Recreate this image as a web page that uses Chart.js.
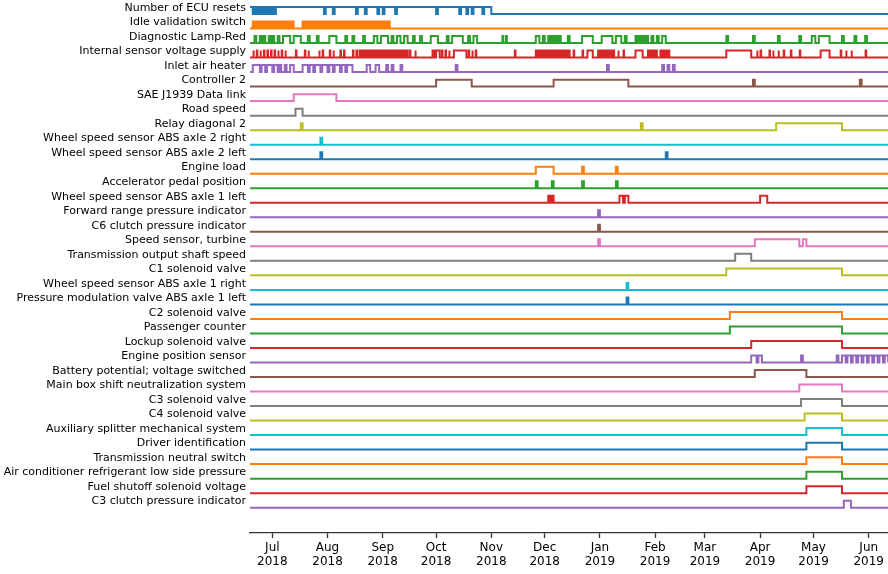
<!DOCTYPE html>
<html><head><meta charset="utf-8">
<script src="https://cdn.jsdelivr.net/npm/chart.js@4.4.1/dist/chart.umd.min.js"></script>
<style>html,body{margin:0;padding:0;background:#fff}canvas{display:block}</style>
</head><body>
<canvas id="c" width="888" height="574"></canvas>
<script>
// Visible time span of the x axis
const axisStart = Date.UTC(2018, 5, 18, 11);
const axisEnd = Date.UTC(2019, 5, 11, 20);

const monthTicks = ['2018-07-01','2018-08-01','2018-09-01','2018-10-01','2018-11-01','2018-12-01',
  '2019-01-01','2019-02-01','2019-03-01','2019-04-01','2019-05-01','2019-06-01'];
const monthLabels = [['Jul','2018'],['Aug','2018'],['Sep','2018'],['Oct','2018'],['Nov','2018'],['Dec','2018'],
  ['Jan','2019'],['Feb','2019'],['Mar','2019'],['Apr','2019'],['May','2019'],['Jun','2019']];

const rowLabels = [
  'Number of ECU resets','Idle validation switch','Diagnostic Lamp-Red','Internal sensor voltage supply',
  'Inlet air heater','Controller 2','SAE J1939 Data link','Road speed','Relay diagonal 2',
  'Wheel speed sensor ABS axle 2 right','Wheel speed sensor ABS axle 2 left','Engine load',
  'Accelerator pedal position','Wheel speed sensor ABS axle 1 left','Forward range pressure indicator',
  'C6 clutch pressure indicator','Speed sensor, turbine','Transmission output shaft speed','C1 solenoid valve',
  'Wheel speed sensor ABS axle 1 right','Pressure modulation valve ABS axle 1 left','C2 solenoid valve',
  'Passenger counter','Lockup solenoid valve','Engine position sensor','Battery potential; voltage switched',
  'Main box shift neutralization system','C3 solenoid valve','C4 solenoid valve',
  'Auxiliary splitter mechanical system','Driver identification','Transmission neutral switch',
  'Air conditioner refrigerant low side pressure','Fuel shutoff solenoid voltage','C3 clutch pressure indicator'];

// Each array: times where the signal switches state (on, off, on, off, ...), 'YYYY-MM-DD' or 'YYYY-MM-DD HH'
const ecuResets = ['2018-06-18','2018-06-20','2018-06-21','2018-06-22','2018-06-23','2018-06-24','2018-06-25','2018-06-26',
  '2018-06-27','2018-06-28','2018-06-29','2018-06-30','2018-07-01','2018-07-02','2018-07-03','2018-07-30',
  '2018-07-31','2018-08-04','2018-08-05','2018-08-17','2018-08-18','2018-08-22','2018-08-23','2018-08-29',
  '2018-08-30','2018-09-01','2018-09-02','2018-09-08','2018-09-09','2018-10-01','2018-10-02','2018-10-14',
  '2018-10-15','2018-10-18','2018-10-19','2018-10-21','2018-10-22','2018-10-27','2018-10-28','2018-11-01'];
const idleValidation = ['2018-06-20','2018-06-21','2018-06-22','2018-06-23','2018-06-24','2018-06-25','2018-06-26','2018-06-27',
  '2018-06-28','2018-06-29','2018-06-30','2018-07-01','2018-07-02','2018-07-03','2018-07-04','2018-07-05',
  '2018-07-06','2018-07-07','2018-07-08','2018-07-09','2018-07-10','2018-07-11','2018-07-12','2018-07-13',
  '2018-07-18','2018-07-19','2018-07-20','2018-07-21','2018-07-22','2018-07-23','2018-07-24','2018-07-25',
  '2018-07-26','2018-07-27','2018-07-28','2018-07-29','2018-07-30','2018-07-31','2018-08-01','2018-08-02',
  '2018-08-03','2018-08-04','2018-08-05','2018-08-06','2018-08-07','2018-08-08','2018-08-09','2018-08-10',
  '2018-08-11','2018-08-12','2018-08-13','2018-08-14','2018-08-15','2018-08-16','2018-08-17','2018-08-18',
  '2018-08-19','2018-08-20','2018-08-21','2018-08-22','2018-08-23','2018-08-24','2018-08-25','2018-08-26',
  '2018-08-27','2018-08-28','2018-08-29','2018-08-30','2018-08-31','2018-09-01','2018-09-02','2018-09-03',
  '2018-09-04','2018-09-05'];
const lampRed = ['2018-06-21','2018-06-22','2018-06-24','2018-06-25','2018-06-26','2018-06-27','2018-06-29','2018-06-30',
  '2018-07-01','2018-07-02','2018-07-04','2018-07-05','2018-07-07','2018-07-11','2018-07-13','2018-07-17',
  '2018-07-21','2018-07-22','2018-07-26','2018-07-27','2018-08-02','2018-08-06','2018-08-11','2018-08-12',
  '2018-08-15','2018-08-16','2018-08-21','2018-08-22','2018-08-27','2018-08-29','2018-08-31','2018-09-04',
  '2018-09-06','2018-09-07','2018-09-09','2018-09-11','2018-09-13','2018-09-15','2018-09-18','2018-09-19',
  '2018-09-22','2018-09-23','2018-09-28','2018-10-02','2018-10-07','2018-10-08','2018-10-10','2018-10-16',
  '2018-10-19','2018-10-20','2018-10-22','2018-10-24','2018-11-07 06','2018-11-07 18','2018-11-09 06','2018-11-09 18',
  '2018-11-26','2018-11-28','2018-11-30','2018-12-01','2018-12-03','2018-12-04','2018-12-05','2018-12-06',
  '2018-12-07','2018-12-08','2018-12-09','2018-12-10','2018-12-14','2018-12-15','2018-12-22','2018-12-28',
  '2019-01-02','2019-01-08','2019-01-10','2019-01-13','2019-01-15','2019-01-16','2019-01-21','2019-01-22',
  '2019-01-23','2019-01-24','2019-01-25','2019-01-26','2019-01-27','2019-01-28','2019-01-30','2019-01-31',
  '2019-02-02','2019-02-03','2019-02-05','2019-02-07','2019-03-13','2019-03-14','2019-03-28','2019-03-29',
  '2019-04-11','2019-04-12','2019-04-23','2019-04-24','2019-04-30','2019-05-02','2019-05-04','2019-05-10',
  '2019-05-17','2019-05-18','2019-05-24','2019-05-25','2019-05-30','2019-05-31'];
const sensorSupply = ['2018-06-20 06','2018-06-20 14','2018-06-22 06','2018-06-22 14','2018-06-24 06','2018-06-24 14',
  '2018-06-26 06','2018-06-26 14','2018-06-28 06','2018-06-28 14','2018-06-30 06','2018-06-30 14',
  '2018-07-02 06','2018-07-02 14','2018-07-04 06','2018-07-04 14','2018-07-06 06','2018-07-06 14',
  '2018-07-08 06','2018-07-08 14','2018-07-14 06','2018-07-14 14','2018-07-19 06','2018-07-19 14',
  '2018-07-21 06','2018-07-21 14','2018-07-27 06','2018-07-27 14','2018-07-29 06','2018-07-29 14',
  '2018-08-02 06','2018-08-02 14','2018-08-04 06','2018-08-04 14','2018-08-08 06','2018-08-08 14',
  '2018-08-10 06','2018-08-10 14','2018-08-15 06','2018-08-15 14','2018-08-17 06','2018-08-17 14',
  '2018-08-19','2018-08-20','2018-08-21','2018-08-22','2018-08-23','2018-08-24',
  '2018-08-25','2018-08-26','2018-08-27','2018-08-28','2018-08-29','2018-08-30','2018-08-31','2018-09-01',
  '2018-09-02','2018-09-03','2018-09-04','2018-09-05','2018-09-06','2018-09-07','2018-09-08','2018-09-09',
  '2018-09-10','2018-09-11','2018-09-12','2018-09-13','2018-09-14','2018-09-15','2018-09-16 06','2018-09-16 14',
  '2018-09-19 06','2018-09-19 14','2018-09-29','2018-09-30','2018-10-01','2018-10-03','2018-10-04 06','2018-10-04 14',
  '2018-10-06 06','2018-10-06 14','2018-10-08 06','2018-10-08 14','2018-10-11','2018-10-18','2018-10-19 06','2018-10-19 14',
  '2018-10-21 06','2018-10-21 14','2018-10-23 06','2018-10-23 14','2018-11-14 06','2018-11-14 14','2018-11-26','2018-11-27',
  '2018-11-28','2018-11-29','2018-11-30','2018-12-01','2018-12-02','2018-12-03','2018-12-04','2018-12-05',
  '2018-12-06','2018-12-07','2018-12-08','2018-12-09','2018-12-10','2018-12-11','2018-12-12','2018-12-13',
  '2018-12-14','2018-12-15','2018-12-17 06','2018-12-17 14','2018-12-22 06','2018-12-22 14','2018-12-25','2018-12-28',
  '2018-12-31','2019-01-01','2019-01-02','2019-01-03','2019-01-04','2019-01-05','2019-01-06','2019-01-07',
  '2019-01-08','2019-01-09','2019-01-11 06','2019-01-11 14','2019-01-14 06','2019-01-14 14','2019-01-21','2019-01-25',
  '2019-01-28','2019-01-29','2019-01-30','2019-01-31','2019-02-01','2019-02-02','2019-02-04','2019-02-05',
  '2019-02-06','2019-02-07','2019-02-08','2019-02-09','2019-03-13','2019-03-27','2019-03-30 06','2019-03-30 14',
  '2019-04-01 06','2019-04-01 14','2019-04-06 06','2019-04-06 14','2019-04-08 06','2019-04-08 14','2019-04-11 06','2019-04-11 14',
  '2019-04-14 06','2019-04-14 14','2019-04-18 06','2019-04-18 14','2019-04-23 06','2019-04-23 14','2019-05-05','2019-05-10',
  '2019-05-16 06','2019-05-16 14','2019-05-19 06','2019-05-19 14','2019-05-22 06','2019-05-22 14','2019-05-30 06','2019-05-30 14'];
const inletHeater = ['2018-06-20','2018-06-24','2018-06-25','2018-06-27','2018-06-28','2018-07-01','2018-07-02','2018-07-04',
  '2018-07-05','2018-07-06','2018-07-08','2018-07-09','2018-07-11','2018-07-13','2018-07-18','2018-07-21',
  '2018-07-22','2018-07-24','2018-07-25','2018-07-28','2018-07-29','2018-08-01','2018-08-02','2018-08-04',
  '2018-08-05','2018-08-08','2018-08-09','2018-08-11','2018-08-12','2018-08-15','2018-08-23','2018-08-25',
  '2018-08-28','2018-08-30','2018-09-03','2018-09-04','2018-09-06','2018-09-07','2018-09-11','2018-09-12',
  '2018-10-12','2018-10-13','2019-01-05','2019-01-06','2019-02-05','2019-02-06','2019-02-08','2019-02-09',
  '2019-02-11','2019-02-12'];
const controller2 = ['2018-10-01','2018-10-21','2018-12-06','2019-01-17','2019-03-28','2019-03-29','2019-05-27','2019-05-28'];
const sae1939 = ['2018-07-13','2018-08-06'];
const roadSpeed = ['2018-07-14','2018-07-18'];
const relayDiag2 = ['2018-07-17','2018-07-18','2019-01-24','2019-01-25','2019-04-10','2019-05-17'];
const wsAxle2Right = ['2018-07-28','2018-07-29'];
const wsAxle2Left = ['2018-07-28','2018-07-29','2019-02-07','2019-02-08'];
const engineLoad = ['2018-11-26','2018-12-06','2018-12-22','2018-12-23','2019-01-10','2019-01-11'];
const accelPedal = ['2018-11-26','2018-11-27','2018-12-05','2018-12-06','2018-12-22','2018-12-23','2019-01-10','2019-01-11'];
const wsAxle1Left = ['2018-12-03','2018-12-04','2018-12-05','2018-12-06','2019-01-12','2019-01-14','2019-01-15','2019-01-17',
  '2019-04-01','2019-04-05'];
const fwdRange = ['2018-12-31','2019-01-01'];
const c6Clutch = ['2018-12-31','2019-01-01'];
const turbineSpeed = ['2018-12-31','2019-01-01','2019-03-29','2019-04-23','2019-04-25','2019-04-27'];
const outputShaft = ['2019-03-18','2019-03-27'];
const c1Solenoid = ['2019-03-13','2019-05-17'];
const wsAxle1Right = ['2019-01-16','2019-01-17'];
const pressureMod = ['2019-01-16','2019-01-17'];
const c2Solenoid = ['2019-03-15','2019-05-17'];
const passengerCounter = ['2019-03-15','2019-05-17'];
const lockupSolenoid = ['2019-03-27','2019-05-17'];
const enginePosition = ['2019-03-27','2019-03-30','2019-03-31','2019-04-02','2019-04-24','2019-04-25','2019-05-14','2019-05-15',
  '2019-05-17','2019-05-19','2019-05-20','2019-05-22','2019-05-23','2019-05-25','2019-05-26','2019-05-28',
  '2019-05-29','2019-05-31','2019-06-01','2019-06-03','2019-06-04','2019-06-06','2019-06-07','2019-06-09',
  '2019-06-10','2019-06-12'];
const batteryPotential = ['2019-03-29','2019-04-27'];
const mainBoxShift = ['2019-04-23','2019-05-17'];
const c3Solenoid = ['2019-04-24','2019-05-17'];
const c4Solenoid = ['2019-04-26','2019-05-17'];
const auxSplitter = ['2019-04-27','2019-05-17'];
const driverId = ['2019-04-27','2019-05-17'];
const neutralSwitch = ['2019-04-27','2019-05-17'];
const acPressure = ['2019-04-27','2019-05-17'];
const fuelShutoff = ['2019-04-27','2019-05-17'];
const c3Clutch = ['2019-05-18','2019-05-22'];

const rows = [ecuResets, idleValidation, lampRed, sensorSupply, inletHeater, controller2, sae1939, roadSpeed,
  relayDiag2, wsAxle2Right, wsAxle2Left, engineLoad, accelPedal, wsAxle1Left, fwdRange, c6Clutch, turbineSpeed,
  outputShaft, c1Solenoid, wsAxle1Right, pressureMod, c2Solenoid, passengerCounter, lockupSolenoid, enginePosition,
  batteryPotential, mainBoxShift, c3Solenoid, c4Solenoid, auxSplitter, driverId, neutralSwitch, acPressure,
  fuelShutoff, c3Clutch];

const palette = ['#1f77b4','#ff7f0e','#2ca02c','#d62728','#9467bd','#8c564b','#e377c2','#7f7f7f','#bcbd22','#17becf'];

const STEP = 0.48, LABEL_OFF = 0.42, ROW_PX = 14.52;
const yMax = 14 / ROW_PX;
const yMin = yMax - 533 / ROW_PX;

function ms(s) {
  const [d, h] = s.split(' ');
  const p = d.split('-').map(Number);
  return Date.UTC(p[0], p[1] - 1, p[2], h ? Number(h) : 0);
}

const datasets = rows.map((toggles, i) => {
  const base = -i, hi = base + STEP;
  let on = false, started = false;
  const pts = [];
  toggles.forEach(s => {
    const t = ms(s);
    if (t <= axisStart) { on = !on; return; }
    if (!started) { pts.push({x: axisStart, y: on ? hi : base}); started = true; }
    pts.push({x: t, y: on ? hi : base});
    on = !on;
    pts.push({x: t, y: on ? hi : base});
  });
  if (!started) pts.push({x: axisStart, y: on ? hi : base});
  pts.push({x: axisEnd, y: on ? hi : base});
  return {label: rowLabels[i], data: pts, borderColor: palette[i % 10], borderWidth: 2,
    pointRadius: 0, tension: 0, fill: false, borderJoinStyle: 'miter', borderCapStyle: 'butt'};
});

new Chart(document.getElementById('c').getContext('2d'), {
  type: 'line',
  data: {datasets},
  options: {
    responsive: false, animation: false, devicePixelRatio: 1,
    layout: {padding: 0},
    plugins: {legend: {display: false}, tooltip: {enabled: false}},
    scales: {
      x: {
        type: 'linear', min: axisStart, max: axisEnd,
        afterBuildTicks: s => { s.ticks = monthTicks.map(m => ({value: ms(m)})); },
        afterFit: s => { s.height = 41; s.paddingLeft = 0; s.paddingRight = 0; },
        ticks: {autoSkip: false, maxRotation: 0, minRotation: 0, padding: 3, color: '#000',
          font: {family: 'DejaVu Sans', size: 12, lineHeight: 1.15},
          callback: (v, i) => monthLabels[i]},
        grid: {display: true, drawOnChartArea: false, drawTicks: true, tickLength: 5, tickWidth: 1.3, tickColor: '#333'},
        border: {display: true, color: '#333', width: 1.3}
      },
      y: {
        type: 'linear', min: yMin, max: yMax,
        afterBuildTicks: s => { s.ticks = rowLabels.map((_, i) => ({value: -i + LABEL_OFF})); },
        afterFit: s => { s.width = 250; s.paddingTop = 0; s.paddingBottom = 0; },
        ticks: {autoSkip: false, padding: 4, color: '#000', font: {family: 'DejaVu Sans', size: 11},
          callback: (v, i) => rowLabels[i]},
        grid: {display: false, drawTicks: false},
        border: {display: false}
      }
    }
  }
});
</script>
</body></html>
